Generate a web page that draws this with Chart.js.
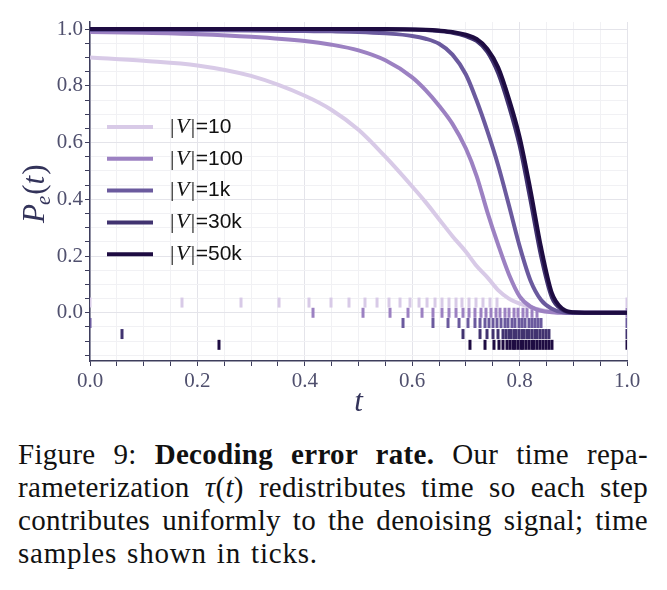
<!DOCTYPE html>
<html><head><meta charset="utf-8">
<script src="https://cdn.jsdelivr.net/npm/chart.js@4.4.1/dist/chart.umd.min.js"></script>
<style>
html,body{margin:0;padding:0;background:#fff;}
body{width:667px;height:590px;position:relative;overflow:hidden;}
#wrap{position:absolute;left:0;top:0;width:667px;height:420px;}
#cap{position:absolute;left:18px;top:438px;width:630px;font-family:'Liberation Serif',serif;font-size:29px;line-height:33px;color:#111;letter-spacing:0.3px;}
#cap div{text-align:justify;text-align-last:justify;}
#cap div.last{text-align:left;text-align-last:left;letter-spacing:0.8px;word-spacing:2px;}
</style></head><body>
<div id="wrap"><canvas id="c" width="667" height="420"></canvas></div>
<div id="cap">
<div>Figure 9: <b>Decoding error rate.</b> Our time repa-</div>
<div>rameterization <i>τ</i>(<i>t</i>) redistributes time so each step</div>
<div>contributes uniformly to the denoising signal; time</div>
<div class="last">samples shown in ticks.</div>
</div>
<script>
// ---- data ----
const T = [0,0.1,0.2,0.3,0.4,0.45,0.5,0.55,0.6,0.625,0.65,0.675,0.7,0.72,0.74,0.76,0.78,0.8,0.82,0.84,0.86,0.88,0.9,0.95,1.0];
const pe10  = [0.900,0.888,0.872,0.835,0.765,0.715,0.645,0.550,0.445,0.390,0.330,0.270,0.215,0.165,0.125,0.080,0.050,0.032,0.020,0.010,0.004,0.001,0,0,0];
const pe100 = [0.990,0.987,0.982,0.973,0.958,0.945,0.925,0.890,0.830,0.785,0.730,0.666,0.579,0.482,0.355,0.240,0.136,0.058,0.022,0.007,0.002,0,0,0,0];
const pe1k  = [0.997,0.997,0.996,0.995,0.993,0.992,0.990,0.985,0.976,0.966,0.948,0.910,0.840,0.748,0.640,0.520,0.380,0.235,0.115,0.045,0.014,0.002,0,0,0];
const pe30k = [1.000,1.000,1.000,1.000,1.000,1.000,1.000,0.999,0.999,0.997,0.993,0.987,0.975,0.958,0.920,0.845,0.730,0.590,0.400,0.200,0.055,0.010,0.001,0,0];
const pe50k = [1.000,1.000,1.000,1.000,1.000,1.000,1.000,1.000,0.999,0.998,0.995,0.990,0.980,0.965,0.930,0.865,0.755,0.620,0.435,0.230,0.070,0.014,0.002,0,0];

const ticks10  = [0,0.1713,0.2812,0.3520,0.4078,0.4488,0.4823,0.5121,0.5345,0.5568,0.5773,0.5959,0.6127,0.6276,0.6425,0.6555,0.6685,0.6816,0.6927,0.7058,0.7188,0.7318,0.7449,0.7579,1.0];
const ticks100 = [0.4153,0.5084,0.5587,0.5922,0.6183,0.6387,0.6555,0.6685,0.6816,0.6946,0.7058,0.7169,0.7281,0.7374,0.7467,0.7561,0.7635,0.7728,0.7803,0.7896,0.7970,0.8063,0.8138,0.8231,0.8324,1.0];
const ticks1k  = [0,0.5829,0.6387,0.6667,0.6872,0.7039,0.7169,0.7263,0.7356,0.7430,0.7505,0.7579,0.7654,0.7728,0.7784,0.7858,0.7914,0.7989,0.8045,0.8101,0.8175,0.8231,0.8287,0.8343,0.8399,1.0];
const ticks30k = [0.0596,0.6946,0.7263,0.7393,0.7505,0.7598,0.7691,0.7747,0.7803,0.7840,0.7896,0.7933,0.7989,0.8045,0.8082,0.8138,0.8175,0.8231,0.8287,0.8324,0.8380,0.8436,0.8492,0.8547,1.0];
const ticks50k = [0.2402,0.7076,0.7356,0.7523,0.7616,0.7691,0.7765,0.7821,0.7877,0.7914,0.7970,0.8026,0.8063,0.8119,0.8175,0.8231,0.8268,0.8324,0.8380,0.8436,0.8492,0.8547,0.8603,1.0];

const sizeLabels = ['10','100','1k','30k','50k'];

// ---- styling ----
const colors = ['#d8cae7','#9c81c2','#6b5a9e','#413370','#1e0c42'];
const rowY = [0.036, 0, -0.036, -0.075, -0.113];
const seriesVals = [pe10, pe100, pe1k, pe30k, pe50k];
const tickSets = [ticks10, ticks100, ticks1k, ticks30k, ticks50k];

const datasets = [];
seriesVals.forEach((vals, i) => {
  datasets.push({
    label: '|V|=' + sizeLabels[i],
    data: T.map((t, k) => ({x: t, y: vals[k]})),
    borderColor: colors[i], backgroundColor: colors[i],
    borderWidth: 4, pointRadius: 0, fill: false,
    cubicInterpolationMode: 'monotone', order: 4 - i, isCurve: true
  });
});
tickSets.forEach((ts, i) => {
  datasets.push({
    label: 'samples ' + sizeLabels[i],
    data: ts.map(t => ({x: t, y: rowY[i]})),
    showLine: false, pointStyle: 'line', rotation: 90, pointRadius: 5, pointHoverRadius: 5,
    pointBorderWidth: 3, borderColor: colors[i], backgroundColor: colors[i],
    order: 10 + i, isCurve: false
  });
});

const isMult = (v, s) => Math.abs(v / s - Math.round(v / s)) < 1e-6;
const axisColor = '#3d3d5c';
const labelColor = '#50506e';
const gridColor = (ctx) => {
  const v = ctx.tick && ctx.tick.value;
  if (v === undefined) return 'rgba(0,0,0,0)';
  return isMult(v, 0.2) ? '#e4e4ea' : '#f1f1f4';
};
const stepTicks = (lo, hi) => s => {
  const out = [];
  for (let k = lo; k <= hi; k++) out.push({ value: Math.round(k * 5) / 100 });
  s.ticks = out;
};

const legendPlugin = {
  id: 'inlineLegend',
  afterDatasetsDraw(chart) {
    const ctx = chart.ctx;
    const a = chart.chartArea;
    ctx.save();
    const curves = chart.data.datasets.filter(d => d.isCurve);
    curves.forEach((d, i) => {
      const y = 127 + i * 31.8;
      const x0 = a.left + 17;
      ctx.strokeStyle = d.borderColor; ctx.lineWidth = 4; ctx.lineCap = 'butt';
      ctx.beginPath(); ctx.moveTo(x0, y); ctx.lineTo(x0 + 46, y); ctx.stroke();
      let x = a.left + 80;
      ctx.fillStyle = '#111'; ctx.textBaseline = 'middle'; ctx.textAlign = 'left';
      ctx.font = '22px "Liberation Serif"';
      ctx.fillText('|', x, y); x += ctx.measureText('|').width + 1.5;
      ctx.font = 'italic 22px "Liberation Serif"';
      ctx.fillText('V', x, y); x += ctx.measureText('V').width + 1.5;
      ctx.font = '22px "Liberation Serif"';
      ctx.fillText('|', x, y); x += ctx.measureText('|').width + 0.5;
      ctx.font = '21px "Liberation Sans"';
      ctx.fillText('=' + sizeLabels[i], x, y);
    });
    ctx.restore();
  }
};

const yTitlePlugin = {
  id: 'yTitle',
  afterDraw(chart) {
    const ctx = chart.ctx;
    ctx.save();
    ctx.fillStyle = '#33335a';
    ctx.translate(44, 223);
    ctx.rotate(-Math.PI / 2);
    ctx.textBaseline = 'alphabetic'; ctx.textAlign = 'left';
    let x = 0;
    ctx.font = 'italic 31px "Liberation Serif"';
    ctx.fillText('P', x, 0); x += ctx.measureText('P').width - 1;
    ctx.font = 'italic 21px "Liberation Serif"';
    ctx.fillText('e', x, 6); x += ctx.measureText('e').width + 1;
    ctx.font = '31px "Liberation Serif"';
    ctx.fillText('(', x, 0); x += ctx.measureText('(').width;
    ctx.font = 'italic 31px "Liberation Serif"';
    ctx.fillText('t', x, 0); x += ctx.measureText('t').width + 1;
    ctx.font = '31px "Liberation Serif"';
    ctx.fillText(')', x, 0);
    ctx.restore();
  }
};

Chart.defaults.font.family = '"Liberation Serif"';
new Chart(document.getElementById('c'), {
  type: 'line',
  data: { datasets },
  options: {
    responsive: false, animation: false,
    events: [],
    layout: { padding: { left: 0, right: 40, top: 22, bottom: 0 } },
    plugins: { legend: { display: false }, tooltip: { enabled: false } },
    scales: {
      x: {
        type: 'linear', min: 0, max: 1,
        afterBuildTicks: stepTicks(0, 20),
        afterFit: s => { s.height = 59; },
        border: { display: true, color: axisColor, width: 1.5 },
        grid: { color: gridColor, tickColor: axisColor, tickLength: 5, lineWidth: 1 },
        ticks: { autoSkip: false, maxRotation: 0, padding: 3, color: labelColor,
                 font: { size: 21, family: '"Liberation Serif"' },
                 callback: v => isMult(v, 0.2) ? Number(v).toFixed(1) : '' },
        title: { display: true, text: 't', color: '#33335a', padding: { top: 0, bottom: 2 },
                 font: { size: 31, style: 'italic', family: '"Liberation Serif"', lineHeight: 1 } }
      },
      y: {
        type: 'linear', min: -0.17, max: 1.025,
        afterBuildTicks: stepTicks(-3, 20),
        afterFit: s => { s.width = 90; },
        border: { display: true, color: axisColor, width: 1.5 },
        grid: { color: gridColor, tickColor: axisColor, tickLength: 5, lineWidth: 1 },
        ticks: { autoSkip: false, padding: 2, color: labelColor,
                 font: { size: 21, family: '"Liberation Serif"' },
                 callback: v => isMult(v, 0.2) ? Number(v).toFixed(1) : '' }
      }
    }
  },
  plugins: [legendPlugin, yTitlePlugin]
});
</script>
</body></html>
